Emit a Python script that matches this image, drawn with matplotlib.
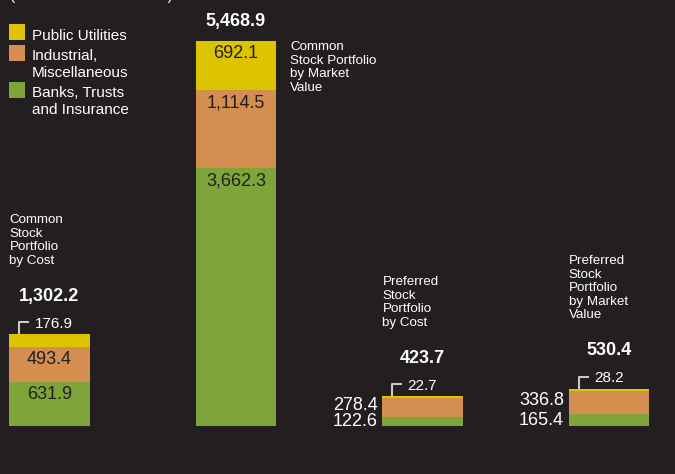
import matplotlib.pyplot as plt
import numpy as np

plt.rcParams['font.family'] = ['Liberation Sans', 'DejaVu Sans']

# portfolio breakdown, stacked bottom to top: banks, industrial, utilities
categories = [
    "Common\nStock\nPortfolio\nby Cost",
    "Common\nStock Portfolio\nby Market\nValue",
    "Preferred\nStock\nPortfolio\nby Cost",
    "Preferred\nStock\nPortfolio\nby Market\nValue",
]
banks = [631.9, 3662.3, 122.6, 165.4]
industrial = [493.4, 1114.5, 278.4, 336.8]
utilities = [176.9, 692.1, 22.7, 28.2]
totals = [1302.2, 5468.9, 423.7, 530.4]

series_names = ["Banks, Trusts\nand Insurance", "Industrial,\nMiscellaneous", "Public Utilities"]
colors = ["#7ea53a", "#d38e50", "#dcc400"]
bg = "#231f20"
dark = "#231f20"
white = "#ffffff"
line_gray = "#c8c8c8"

W, H = 675, 474
fig = plt.figure(figsize=(W / 100, H / 100), dpi=100, facecolor=bg)
ax = fig.add_axes([0, 0, 1, 1])
ax.set_facecolor(bg)

# pixel scale of the value axis
px_per_unit = 385 / 5468.9
ymin = -48 / px_per_unit
ymax = ymin + H / px_per_unit
xmin = -49.5 / 186.5
xmax = xmin + W / 186.5
ax.set_xlim(xmin, xmax)
ax.set_ylim(ymin, ymax)
ax.axis("off")

ux = (xmax - xmin) / W   # data units per pixel
uy = (ymax - ymin) / H
pt = 0.72                 # points per pixel at 100 dpi

x = np.arange(len(categories))
width = 0.43
label_mode = ["inside", "inside", "side", "side"]

bottom = np.zeros(len(x))
stack = [banks, industrial, utilities]
for vals, c in zip(stack, colors):
    ax.bar(x, vals, width, bottom=bottom, color=c, linewidth=0)
    bottom += np.array(vals)

for i in range(len(x)):
    left = x[i] - width / 2
    right = x[i] + width / 2
    base = 0
    callout = False
    for k, vals in enumerate(stack):
        v = vals[i]
        top = base + v
        h_px = v * px_per_unit
        if h_px > 30:
            ax.annotate(f"{v:,.1f}", (x[i], top), xytext=(0, -11 * pt),
                        textcoords="offset points", ha="center",
                        va="center_baseline", fontsize=13, color=dark)
        elif k == 2:
            # small top segment: bracket callout
            callout = True
            lx = left + 10 * ux
            ax.plot([lx, lx, lx + 10 * ux], [top, top + 12 * uy, top + 12 * uy],
                    color=line_gray, lw=1.5, solid_capstyle="butt")
            ax.text(lx + 15 * ux, top + 12 * uy, f"{v:,.1f}", ha="left",
                    va="center_baseline", fontsize=11, color=white)
        else:
            lift = 2 if k == 0 else 4.5
            ax.text(left - 5 * ux, base + v / 2 + lift * uy, f"{v:,.1f}",
                    ha="right", va="center_baseline", fontsize=13, color=white)
        base = top

    gap = 40 if callout else 21
    ty = totals[i] + gap * uy
    ax.text(x[i], ty, f"{totals[i]:,.1f}", ha="center", va="center_baseline",
            fontsize=13, fontweight="bold", color=white)

    if label_mode[i] == "inside" and not callout:
        ax.text(right + 14 * ux, totals[i], categories[i], ha="left", va="top",
                fontsize=9.6, color=white, linespacing=1.17)
    else:
        ax.text(left, ty + 27.5 * uy, categories[i], ha="left", va="bottom",
                fontsize=9.6, color=white, linespacing=1.17)

# legend, top left
legend_rows = [(24, 2), (45, 1), (82, 0)]
for top_px, k in legend_rows:
    fig.patches.append(plt.Rectangle((9 / W, 1 - (top_px + 16) / H), 16 / W, 16 / H,
                                     transform=fig.transFigure, color=colors[k],
                                     linewidth=0))
    fig.text(32 / W, 1 - (top_px + 4.5) / H, series_names[k], ha="left",
             va="top", fontsize=11, color=white, linespacing=1.22)

fig.text(10 / W, 1 + 0.5 / H, "(in thousands of dollars)", ha="left", va="baseline",
         fontsize=11, color=white)

fig.savefig("out.png", dpi=100, facecolor=bg)
